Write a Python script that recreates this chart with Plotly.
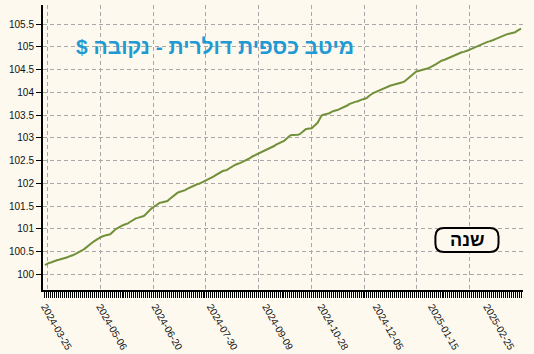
import plotly.graph_objects as go

# ---- data ----
values = [
    100.20, 100.23, 100.25, 100.26, 100.28, 100.30,
    100.31, 100.32, 100.33, 100.34, 100.35,
    100.37, 100.39, 100.40, 100.42,
    100.44, 100.46, 100.49, 100.51, 100.53,
    100.56, 100.60, 100.64, 100.67, 100.70, 100.73,
    100.76, 100.78, 100.81, 100.83,
    100.85, 100.86, 100.87, 100.88,
    100.92, 100.97,
    101.00, 101.02, 101.05,
    101.07, 101.09, 101.10, 101.12,
    101.15, 101.18, 101.21, 101.23,
    101.24, 101.25, 101.26, 101.28,
    101.32, 101.37, 101.41, 101.45,
    101.48, 101.51, 101.54, 101.57,
    101.58, 101.59, 101.60, 101.61,
    101.65, 101.69, 101.73, 101.76, 101.79,
    101.81, 101.82, 101.84, 101.85,
    101.88, 101.90, 101.93, 101.95,
    101.96, 101.98, 101.99, 102.01,
    102.03, 102.05, 102.07,
    102.09, 102.11, 102.14,
    102.17, 102.20, 102.23, 102.25,
    102.27, 102.28, 102.29,
    102.32, 102.35, 102.38, 102.40,
    102.42, 102.43, 102.45, 102.47,
    102.49, 102.52, 102.54, 102.56,
    102.59, 102.61, 102.64, 102.66,
    102.68, 102.70, 102.71, 102.73,
    102.76, 102.78, 102.80, 102.82, 102.85,
    102.87, 102.89, 102.91, 102.93,
    102.97, 103.01, 103.05,
    103.06, 103.06, 103.07, 103.07, 103.08,
    103.12, 103.16, 103.19,
    103.20, 103.20, 103.21,
    103.25, 103.29, 103.33,
    103.41, 103.49,
    103.51, 103.52, 103.53, 103.54,
    103.57, 103.59,
    103.60, 103.61, 103.63, 103.64, 103.66,
    103.68, 103.71, 103.74, 103.76,
    103.78, 103.79, 103.80, 103.82, 103.83,
    103.85, 103.86, 103.88,
    103.92, 103.96, 103.98,
    104.00, 104.02, 104.04, 104.05,
    104.07, 104.09, 104.11, 104.13, 104.15,
    104.16, 104.17, 104.18,
    104.19, 104.20, 104.22, 104.24,
    104.28, 104.32, 104.36,
    104.40, 104.43, 104.46,
    104.47, 104.48, 104.49, 104.50, 104.51,
    104.53, 104.55, 104.57, 104.59,
    104.62, 104.65, 104.68,
    104.70, 104.71, 104.73, 104.74,
    104.77, 104.79, 104.81, 104.83, 104.85,
    104.86, 104.88, 104.89, 104.90,
    104.92, 104.94, 104.96, 104.97, 104.99,
    105.02, 105.04, 105.06, 105.08,
    105.09, 105.11, 105.12, 105.13,
    105.15, 105.17, 105.19, 105.21, 105.22,
    105.24, 105.26, 105.28,
    105.29, 105.30, 105.31, 105.32,
    105.35, 105.37, 105.40,
]
tick_labels = ["2024-03-25", "2024-05-06", "2024-06-20", "2024-07-30", "2024-09-09",
               "2024-10-28", "2024-12-05", "2025-01-15", "2025-02-25"]
tick_positions = [0, 28, 56, 84, 112, 140, 168, 196, 224]
title_text = "מיטב כספית דולרית - נקובה $\u200f"
button_text = "שנה"

# ---- style ----
BG = "#FDF9EE"
LINE = "#71903A"
GRID = "#A8A8A8"
FONT = "Arial, Liberation Sans, sans-serif"

x = list(range(len(values)))
xr = [-1, 242]

fig = go.Figure()
fig.add_trace(go.Scatter(x=x, y=values, mode="lines",
                         line=dict(color=LINE, width=2), hoverinfo="skip",
                         showlegend=False))
# invisible helpers to activate the overlay axes (labels, grid)
fig.add_trace(go.Scatter(x=[xr[0]], y=[values[0]], xaxis="x2", mode="markers",
                         marker=dict(opacity=0), hoverinfo="skip", showlegend=False))
fig.add_trace(go.Scatter(x=[xr[0]], y=[values[0]], xaxis="x3", mode="markers",
                         marker=dict(opacity=0), hoverinfo="skip", showlegend=False))

fig.update_layout(
    width=534, height=354,
    margin=dict(l=43, r=11, t=5, b=64),
    paper_bgcolor=BG, plot_bgcolor=BG,
    font=dict(family=FONT, size=10, color="#222"),
    # primary axis: one tick per data point
    xaxis=dict(range=xr, tickmode="array", tickvals=x, showticklabels=False,
               showgrid=False, zeroline=False, automargin=False,
               showline=True, linecolor="black", linewidth=2,
               ticks="outside", ticklen=6, tickwidth=1, tickcolor="black"),
    # overlay: date labels
    xaxis2=dict(range=xr, overlaying="x", side="bottom", tickmode="array",
                tickvals=tick_positions, ticktext=tick_labels, tickangle=60,
                ticks="outside", ticklen=6, tickwidth=1, tickcolor="black",
                showgrid=False, zeroline=False, showline=False, automargin=False,
                tickfont=dict(size=10, color="#111")),
    # overlay: evenly spaced vertical grid
    xaxis3=dict(range=xr, overlaying="x", side="bottom", tickmode="linear",
                tick0=1.4, dtick=26.69, showticklabels=False, ticks="",
                showgrid=True, gridcolor=GRID, griddash="4px,3px", gridwidth=1,
                zeroline=False, showline=False, automargin=False),
    yaxis=dict(range=[99.655, 105.92], tick0=100, dtick=0.5, showgrid=True,
               gridcolor=GRID, griddash="4px,3px", gridwidth=1, zeroline=False,
               showline=True, linecolor="black", linewidth=2, automargin=False,
               ticks="outside", ticklen=5, tickwidth=1, tickcolor="black",
               tickfont=dict(size=10, color="#111")),
)

fig.add_annotation(text="<b>" + title_text + "</b>", xref="paper", yref="paper",
                   x=0.359, y=0.856, xanchor="center", yanchor="middle", showarrow=False,
                   font=dict(family=FONT, size=21, color="#2199D3"))

# rounded "year" button
x0, x1, y0, y1 = 0.8175, 0.949, 0.1333, 0.2175
rx, ry = 0.018, 0.030
path = (f"M {x0+rx},{y0} L {x1-rx},{y0} Q {x1},{y0} {x1},{y0+ry} "
        f"L {x1},{y1-ry} Q {x1},{y1} {x1-rx},{y1} L {x0+rx},{y1} "
        f"Q {x0},{y1} {x0},{y1-ry} L {x0},{y0+ry} Q {x0},{y0} {x0+rx},{y0} Z")
fig.add_shape(type="path", path=path, xref="paper", yref="paper",
              line=dict(color="black", width=2), fillcolor=BG)
fig.add_annotation(text="<b>" + button_text + "</b>", xref="paper", yref="paper",
                   x=(x0 + x1) / 2, y=(y0 + y1) / 2, xanchor="center", yanchor="middle",
                   showarrow=False, font=dict(family=FONT, size=18, color="black"))

fig.write_html("out.html")
